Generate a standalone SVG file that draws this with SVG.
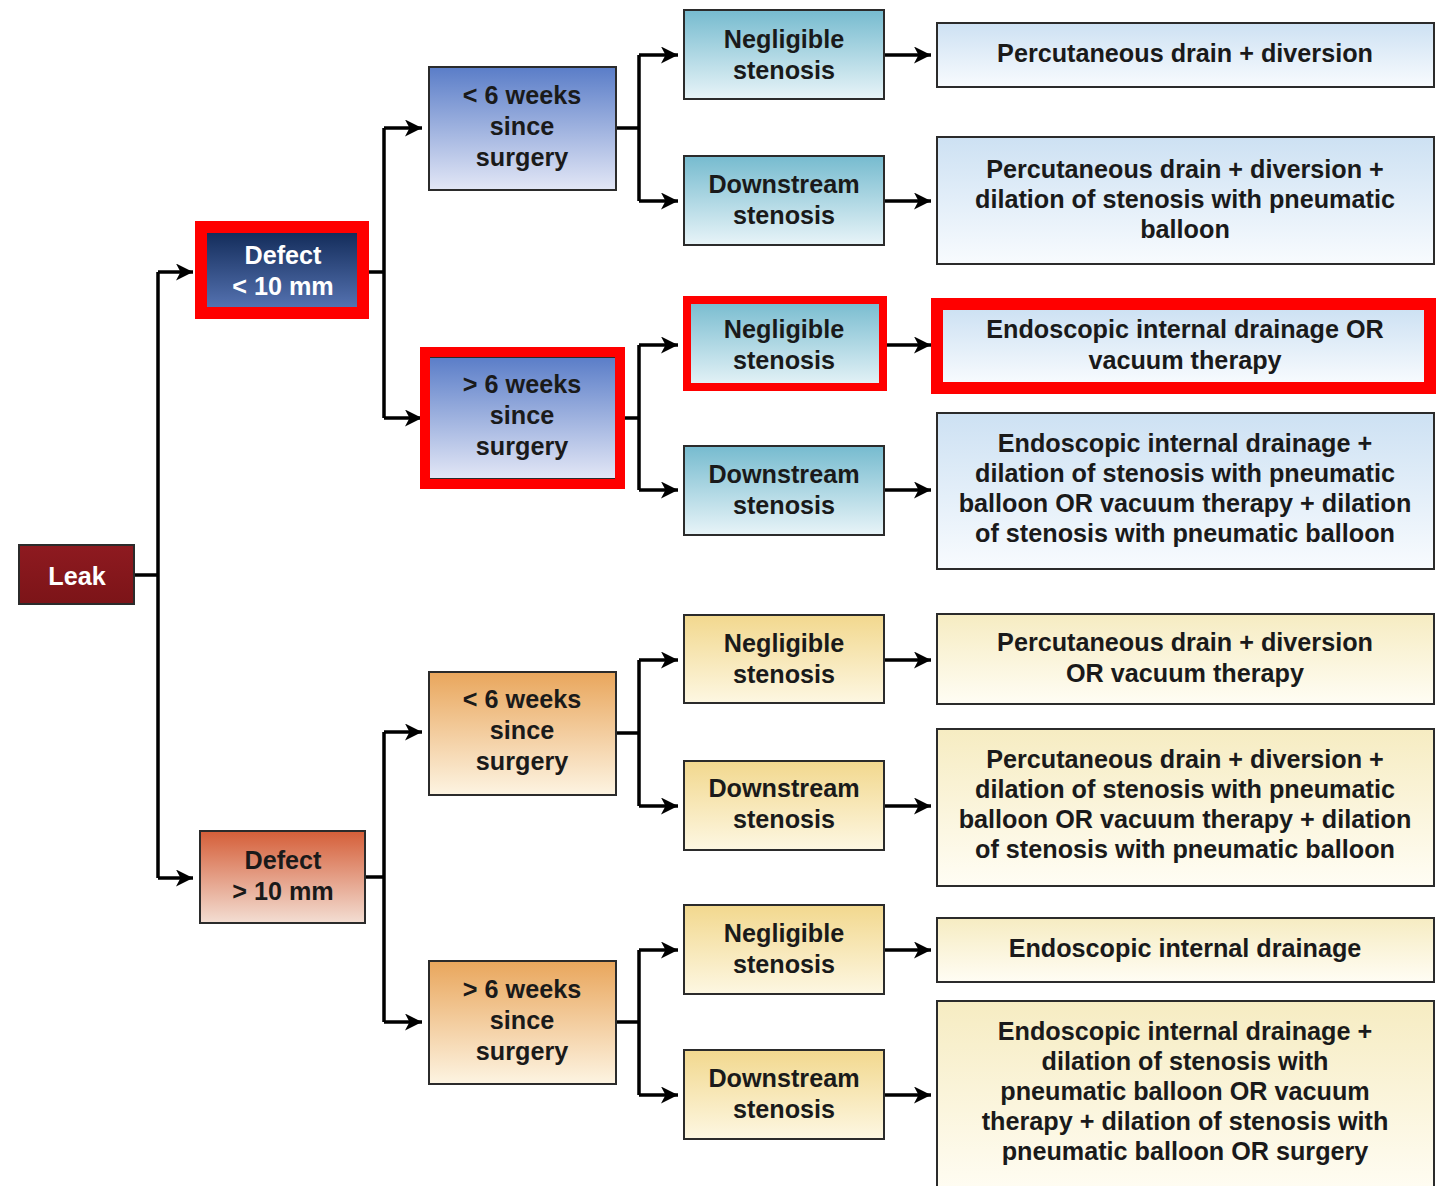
<svg xmlns="http://www.w3.org/2000/svg" width="1451" height="1186" viewBox="0 0 1451 1186">
<style>
.box{stroke:#2b2b2b;stroke-width:2}
.t{font-family:"Liberation Sans",Arial,sans-serif;font-weight:bold;font-size:25.2px;fill:#1a1a1a;text-anchor:middle}
.w{fill:#ffffff}
.c{fill:none;stroke:#000;stroke-width:3.5}
.a{marker-end:url(#ah)}
.hl{fill:none;stroke:#ff0000}
</style>
<defs>
<marker id="ah" markerUnits="userSpaceOnUse" markerWidth="19" markerHeight="17" refX="17" refY="8.5" orient="auto">
<path d="M0,0 L17,8.5 L0,17 L4.5,8.5 z" fill="#000"/>
</marker>
<linearGradient id="gLeak" x1="0" y1="0" x2="0" y2="1"><stop offset="0" stop-color="#8e1a20"/><stop offset="1" stop-color="#7c1418"/></linearGradient>
<linearGradient id="gNavy" x1="0" y1="0" x2="0" y2="1"><stop offset="0" stop-color="#132c5a"/><stop offset="1" stop-color="#5b79b9"/></linearGradient>
<linearGradient id="gBT" x1="0" y1="0" x2="0" y2="1"><stop offset="0" stop-color="#5a7dc8"/><stop offset="1" stop-color="#e3e7f6"/></linearGradient>
<linearGradient id="gTeal" x1="0" y1="0" x2="0" y2="1"><stop offset="0" stop-color="#76bbcf"/><stop offset="1" stop-color="#e8f4f8"/></linearGradient>
<linearGradient id="gBR" x1="0" y1="0" x2="0" y2="1"><stop offset="0" stop-color="#cde1f3"/><stop offset="1" stop-color="#f8fbfe"/></linearGradient>
<linearGradient id="gOD" x1="0" y1="0" x2="0" y2="1"><stop offset="0" stop-color="#d55e38"/><stop offset="1" stop-color="#f3ded3"/></linearGradient>
<linearGradient id="gOT" x1="0" y1="0" x2="0" y2="1"><stop offset="0" stop-color="#e9a65c"/><stop offset="1" stop-color="#fdf4e2"/></linearGradient>
<linearGradient id="gYS" x1="0" y1="0" x2="0" y2="1"><stop offset="0" stop-color="#f2d88e"/><stop offset="1" stop-color="#fdf7e2"/></linearGradient>
<linearGradient id="gYR" x1="0" y1="0" x2="0" y2="1"><stop offset="0" stop-color="#f6ecc2"/><stop offset="1" stop-color="#fffdf4"/></linearGradient>
</defs>
<rect width="1451" height="1186" fill="#fff"/>

<g id="connectors">
<path class="c" d="M134,575 H158 M158,272 V878"/>
<path class="c a" d="M158,272 H193"/>
<path class="c a" d="M158,878 H193"/>
<path class="c" d="M365,272 H384 M384,128 V418"/>
<path class="c a" d="M384,128 H422"/>
<path class="c a" d="M384,418 H422"/>
<path class="c" d="M365,877 H384 M384,732 V1022"/>
<path class="c a" d="M384,732 H422"/>
<path class="c a" d="M384,1022 H422"/>
<path class="c" d="M616,128 H639 M639,55 V201"/>
<path class="c a" d="M639,55 H678"/>
<path class="c a" d="M639,201 H678"/>
<path class="c" d="M616,418 H639 M639,345 V490"/>
<path class="c a" d="M639,345 H678"/>
<path class="c a" d="M639,490 H678"/>
<path class="c" d="M616,733 H639 M639,660 V806"/>
<path class="c a" d="M639,660 H678"/>
<path class="c a" d="M639,806 H678"/>
<path class="c" d="M616,1022 H639 M639,950 V1095"/>
<path class="c a" d="M639,950 H678"/>
<path class="c a" d="M639,1095 H678"/>
<path class="c a" d="M884,55 H931"/>
<path class="c a" d="M884,201 H931"/>
<path class="c a" d="M884,345 H931"/>
<path class="c a" d="M884,490 H931"/>
<path class="c a" d="M884,660 H931"/>
<path class="c a" d="M884,806 H931"/>
<path class="c a" d="M884,950 H931"/>
<path class="c a" d="M884,1095 H931"/>
</g>

<g id="leak"><rect class="box" x="19" y="545" width="115" height="59" fill="url(#gLeak)"/><text class="t w" x="77" y="585" font-size="30">Leak</text></g>

<g id="defect-small"><rect class="box" x="200" y="232" width="165" height="83" fill="url(#gNavy)"/>
<text class="t w" x="283" y="264">Defect<tspan x="283" dy="31">&lt; 10 mm</tspan></text>
<rect class="hl" x="201" y="227" width="162" height="86" stroke-width="12"/></g>

<g id="defect-large"><rect class="box" x="200" y="831" width="165" height="92" fill="url(#gOD)"/>
<text class="t" x="283" y="869">Defect<tspan x="283" dy="31">&gt; 10 mm</tspan></text></g>

<g id="small-lt6"><rect class="box" x="429" y="67" width="187" height="123" fill="url(#gBT)"/>
<text class="t" x="522" y="104">&lt; 6 weeks<tspan x="522" dy="31">since</tspan><tspan x="522" dy="31">surgery</tspan></text></g>
<g id="small-gt6"><rect class="box" x="429" y="357" width="187" height="122" fill="url(#gBT)"/>
<text class="t" x="522" y="393">&gt; 6 weeks<tspan x="522" dy="31">since</tspan><tspan x="522" dy="31">surgery</tspan></text>
<rect class="hl" x="425" y="352" width="195" height="132" stroke-width="10"/></g>
<g id="large-lt6"><rect class="box" x="429" y="672" width="187" height="123" fill="url(#gOT)"/>
<text class="t" x="522" y="708">&lt; 6 weeks<tspan x="522" dy="31">since</tspan><tspan x="522" dy="31">surgery</tspan></text></g>
<g id="large-gt6"><rect class="box" x="429" y="961" width="187" height="123" fill="url(#gOT)"/>
<text class="t" x="522" y="998">&gt; 6 weeks<tspan x="522" dy="31">since</tspan><tspan x="522" dy="31">surgery</tspan></text></g>

<g id="s1"><rect class="box" x="684" y="10" width="200" height="89" fill="url(#gTeal)"/>
<text class="t" x="784" y="48">Negligible<tspan x="784" dy="31">stenosis</tspan></text></g>
<g id="s2"><rect class="box" x="684" y="156" width="200" height="89" fill="url(#gTeal)"/>
<text class="t" x="784" y="193">Downstream<tspan x="784" dy="31">stenosis</tspan></text></g>
<g id="s3"><rect class="box" x="684" y="300" width="200" height="88" fill="url(#gTeal)"/>
<text class="t" x="784" y="338">Negligible<tspan x="784" dy="31">stenosis</tspan></text>
<rect class="hl" x="687" y="300" width="196" height="87" stroke-width="8"/></g>
<g id="s4"><rect class="box" x="684" y="446" width="200" height="89" fill="url(#gTeal)"/>
<text class="t" x="784" y="483">Downstream<tspan x="784" dy="31">stenosis</tspan></text></g>
<g id="s5"><rect class="box" x="684" y="615" width="200" height="88" fill="url(#gYS)"/>
<text class="t" x="784" y="652">Negligible<tspan x="784" dy="31">stenosis</tspan></text></g>
<g id="s6"><rect class="box" x="684" y="761" width="200" height="89" fill="url(#gYS)"/>
<text class="t" x="784" y="797">Downstream<tspan x="784" dy="31">stenosis</tspan></text></g>
<g id="s7"><rect class="box" x="684" y="905" width="200" height="89" fill="url(#gYS)"/>
<text class="t" x="784" y="942">Negligible<tspan x="784" dy="31">stenosis</tspan></text></g>
<g id="s8"><rect class="box" x="684" y="1050" width="200" height="89" fill="url(#gYS)"/>
<text class="t" x="784" y="1087">Downstream<tspan x="784" dy="31">stenosis</tspan></text></g>

<g id="r1"><rect class="box" x="937" y="23" width="497" height="64" fill="url(#gBR)"/>
<text class="t" x="1185" y="62">Percutaneous drain + diversion</text></g>
<g id="r2"><rect class="box" x="937" y="137" width="497" height="127" fill="url(#gBR)"/>
<text class="t" x="1185" y="178">Percutaneous drain + diversion +<tspan x="1185" dy="30">dilation of stenosis with pneumatic</tspan><tspan x="1185" dy="30">balloon</tspan></text></g>
<g id="r3"><rect class="box" x="937" y="309" width="497" height="75" fill="url(#gBR)"/>
<text class="t" x="1185" y="338">Endoscopic internal drainage OR<tspan x="1185" dy="31">vacuum therapy</tspan></text>
<rect class="hl" x="937" y="304" width="493" height="84" stroke-width="12"/></g>
<g id="r4"><rect class="box" x="937" y="413" width="497" height="156" fill="url(#gBR)"/>
<text class="t" x="1185" y="452">Endoscopic internal drainage +<tspan x="1185" dy="30">dilation of stenosis with pneumatic</tspan><tspan x="1185" dy="30">balloon OR vacuum therapy + dilation</tspan><tspan x="1185" dy="30">of stenosis with pneumatic balloon</tspan></text></g>
<g id="r5"><rect class="box" x="937" y="614" width="497" height="90" fill="url(#gYR)"/>
<text class="t" x="1185" y="651">Percutaneous drain + diversion<tspan x="1185" dy="31">OR vacuum therapy</tspan></text></g>
<g id="r6"><rect class="box" x="937" y="729" width="497" height="157" fill="url(#gYR)"/>
<text class="t" x="1185" y="768">Percutaneous drain + diversion +<tspan x="1185" dy="30">dilation of stenosis with pneumatic</tspan><tspan x="1185" dy="30">balloon OR vacuum therapy + dilation</tspan><tspan x="1185" dy="30">of stenosis with pneumatic balloon</tspan></text></g>
<g id="r7"><rect class="box" x="937" y="918" width="497" height="64" fill="url(#gYR)"/>
<text class="t" x="1185" y="957">Endoscopic internal drainage</text></g>
<g id="r8"><rect class="box" x="937" y="1001" width="497" height="195" fill="url(#gYR)"/>
<text class="t" x="1185" y="1040">Endoscopic internal drainage +<tspan x="1185" dy="30">dilation of stenosis with</tspan><tspan x="1185" dy="30">pneumatic balloon OR vacuum</tspan><tspan x="1185" dy="30">therapy + dilation of stenosis with</tspan><tspan x="1185" dy="30">pneumatic balloon OR surgery</tspan></text></g>
</svg>
